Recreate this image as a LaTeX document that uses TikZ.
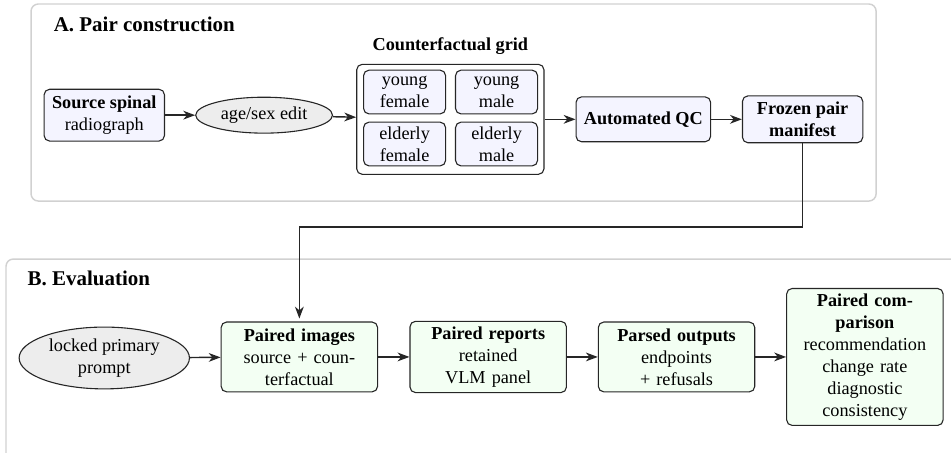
\documentclass[tikz,border=0pt]{standalone}
\usepackage{fontspec}
\setmainfont{Liberation Serif}
\usepackage{tikz}
\usetikzlibrary{arrows,arrows.meta,calc,positioning,shapes.geometric}
\definecolor{pairfill}{HTML}{F4F4FF}
\definecolor{evalfill}{HTML}{F3FFF3}
\definecolor{ovalfill}{HTML}{EDEDED}

\begin{document}
\begin{tikzpicture}[-{Stealth[length=6.5pt,width=4.8pt,inset=2pt]}, thick, draw=black!85]
            \tikzstyle{panel}=[-, draw=black!18, line width=0.8pt, rounded corners=4pt]
            \tikzstyle{paneltitle}=[anchor=west, inner sep=0pt, font=\bfseries\fontsize{11.5}{13}\selectfont]
            \tikzstyle{stage}=[draw=black!85, semithick, rounded corners=3pt, fill=pairfill, align=center, inner sep=3pt]
            \tikzstyle{cell}=[stage, minimum width=45pt, minimum height=24pt, inner sep=1.5pt]
            \tikzstyle{evalstage}=[stage, fill=evalfill, text width=68pt, inner xsep=8.9pt, inner ysep=3pt]
            \tikzstyle{oval}=[ellipse, draw=black!85, semithick, fill=ovalfill, align=center, inner sep=0pt]

            \useasboundingbox (0,0) rectangle (18.33,-8.73);

            % Draw the two panels
            \draw[panel] (0.598,-0.077) rectangle (16.887,-3.875);
            \draw[panel] (0.116,-4.993) rectangle (18.8,-8.9);
            \node[paneltitle] (titleA) at (1.022,-0.463) {A. Pair construction};
            \node[paneltitle] (titleB) at (0.520,-5.359) {B. Evaluation};

            % Panel A: pair construction
            \node[stage, minimum width=66pt, minimum height=28.4pt] (source) at (2.01,-2.22)
                {\textbf{Source spinal}\\radiograph};
            \node[oval, minimum width=75pt, minimum height=19.7pt] (edit) at (5.09,-2.22) {age/sex edit};
            \node[stage, fill=white, minimum width=102.7pt, minimum height=60.3pt,
                  label={[font=\bfseries, label distance=1.5pt]above:Counterfactual grid}] (grid) at (8.68,-2.30) {};

            % Draw the four cells of the grid
            \foreach \name/\x/\y/\txt in {yf/7.798/-1.774/{young\\female}, ym/9.571/-1.774/{young\\male},
                                          ef/7.798/-2.776/{elderly\\female}, em/9.571/-2.776/{elderly\\male}}
                \node[cell] (cell-\name) at (\x,\y) {\txt};

            \node[stage, font=\bfseries, minimum width=73.8pt, minimum height=24.6pt] (qc) at (12.40,-2.30) {Automated QC};
            \node[stage, font=\bfseries, minimum width=66pt, minimum height=25.7pt] (manifest) at (15.47,-2.30)
                {Frozen pair\\manifest};

            \draw (source) -- (edit);
            \draw (edit) -- (grid);
            \draw (grid) -- (qc);
            \draw (qc) -- (manifest);

            % Hand the frozen pairs down to panel B
            \coordinate (handoff) at (0,-4.376);
            \draw (manifest.south) |- (handoff -| 5.77,0) -- (5.77,-6.14);

            % Panel B: evaluation
            \node[oval, minimum width=93.4pt, minimum height=33.9pt] (prompt) at (2.01,-6.90) {locked primary\\prompt};
            \node[evalstage, minimum height=38.3pt] (images) at (5.77,-6.88)
                {\textbf{Paired images}\\source + coun-\\terfactual};
            \node[evalstage, minimum height=38.3pt] (reports) at (9.41,-6.88)
                {\textbf{Paired reports}\\retained\\VLM panel};
            \node[evalstage, minimum height=38.3pt] (parsed) at (13.04,-6.88)
                {\textbf{Parsed outputs}\\endpoints\\+ refusals};
            \node[evalstage, minimum height=74.3pt] (comparison) at (16.67,-6.88)
                {\textbf{Paired com-}\\\textbf{parison}\\recommendation\\change rate\\diagnostic\\consistency};

            % Connect the evaluation steps in a row
            \foreach \source/\dest in {prompt/images, images/reports, reports/parsed, parsed/comparison}
                \draw (\source) -- (\dest);

\end{tikzpicture}
\end{document}
